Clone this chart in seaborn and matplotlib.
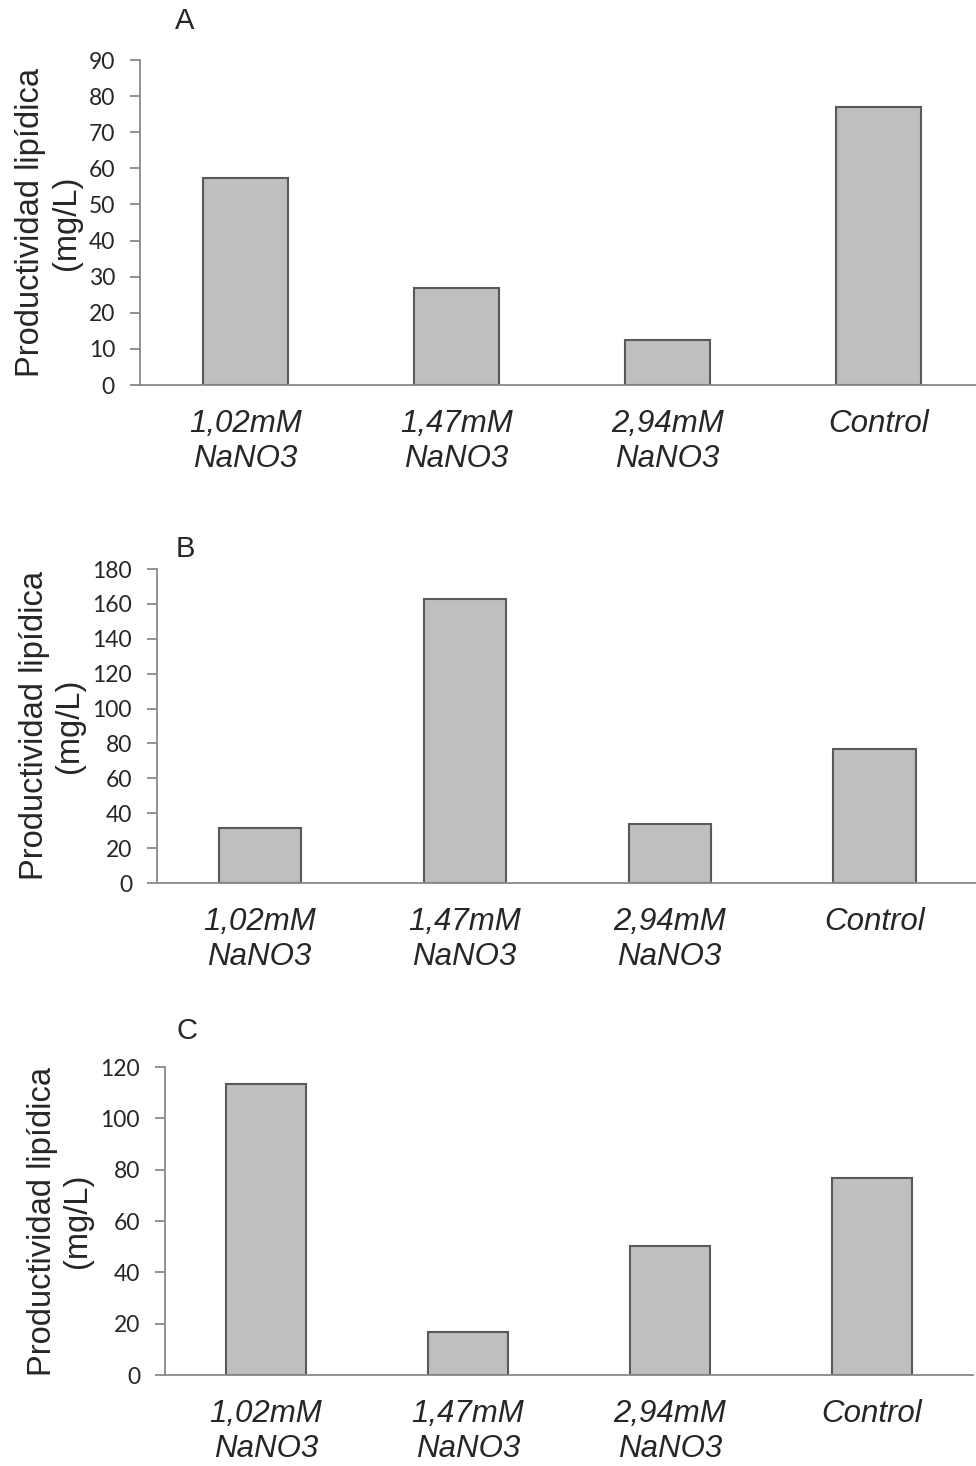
import matplotlib
matplotlib.use("Agg")
import matplotlib.pyplot as plt
import seaborn as sns
import numpy as np
import pandas as pd

categories = ["1,02mM\nNaNO3", "1,47mM\nNaNO3", "2,94mM\nNaNO3", "Control"]
vals_a = [57.4, 26.8, 12.5, 77.0]
vals_b = [31.5, 163.0, 33.8, 76.8]
vals_c = [113.3, 16.8, 50.3, 76.8]
letters = ["A", "B", "C"]
ymax = [90, 180, 120]
ystep = [10, 20, 20]

sns.set_style("white")
plt.rcParams["font.family"] = ["Liberation Sans", "DejaVu Sans"]

W, H = 976, 1466
fig = plt.figure(figsize=(W / 100, H / 100), dpi=100)

# axes boxes in pixels: left, top, bottom, slot width
boxes = [(140, 60, 385, 211), (157, 569, 883, 205), (165, 1067, 1375, 202)]
letter_pos = [(185, 21), (185, 549), (187, 1031)]
grey = "#898989"

for i, vals in enumerate([vals_a, vals_b, vals_c]):
    left, top, bottom, slot = boxes[i]
    ax = fig.add_axes([left / W, 1 - bottom / H, 4 * slot / W, (bottom - top) / H])
    df = pd.DataFrame({"cat": categories, "val": vals})
    sns.barplot(data=df, x="cat", y="val", color="#BFBFBF", saturation=1,
                edgecolor="#595959", linewidth=1.5, width=0.4, ax=ax)
    ax.set_xlim(-0.5, 3.5)
    ax.set_ylim(0, ymax[i])
    ax.set_yticks(np.arange(0, ymax[i] + 1, ystep[i]))
    for s in ["top", "right"]:
        ax.spines[s].set_visible(False)
    for s in ["left", "bottom"]:
        ax.spines[s].set_color(grey)
        ax.spines[s].set_linewidth(1.3)
    ax.tick_params(axis="y", direction="out", length=7, width=1.3, color=grey,
                   pad=11, left=True, labelsize=16.5)
    ax.tick_params(axis="x", length=0, pad=17, labelsize=22.5)
    for t in ax.get_yticklabels():
        t.set_family(["Lato", "DejaVu Sans"])
    for t in ax.get_xticklabels():
        t.set_style("italic")
        t.set_linespacing(1.25)
    ax.set_xlabel("")
    ax.set_ylabel("Productividad lipídica\n(mg/L)", fontsize=23.5, labelpad=5,
                  linespacing=1.2)
    lx, ly = letter_pos[i]
    fig.text(lx / W, 1 - ly / H, letters[i], fontsize=21, ha="center", va="center")

fig.savefig("out.png", dpi=100)
